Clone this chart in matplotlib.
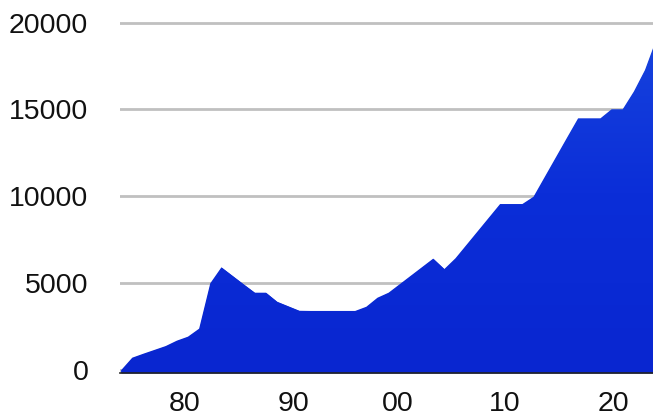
"""Area chart: yearly totals 1974-2022"""
import matplotlib.pyplot as plt
import numpy as np
from matplotlib.colors import LinearSegmentedColormap

plt.rcParams['font.family'] = ['Liberation Sans', 'DejaVu Sans']

years = list(range(1974, 2023))
values = [
    0, 720, 950, 1170, 1390, 1700, 1930, 2390, 5000, 5920,
    5430, 4940, 4460, 4460, 3940, 3680, 3420, 3410, 3410, 3410,
    3410, 3410, 3650, 4170, 4460, 4950, 5440, 5930, 6420, 5820,
    6440, 7220, 8000, 8780, 9560, 9560, 9560, 9980, 11110, 12240,
    13370, 14490, 14490, 14490, 15010, 15010, 16030, 17270, 19010,
]
xtick_labels = ['80', '90', '00', '10', '20']
ytick_values = [0, 5000, 10000, 15000, 20000]

# where the decade labels sit in the reference (data units)
XTICK_POS = [1979.74, 1989.43, 1998.80, 2008.44, 2018.13]
X_LIM = (1973.9, 2021.72)
Y_LIM = (-160, 20500)

fig = plt.figure(figsize=(6.53, 4.16), dpi=100)
ax = fig.add_axes([120 / 653, 43 / 416, 1 - 120 / 653, 359.1 / 416])

x = np.array(years)
y = np.array(values)

poly = ax.fill_between(x, y, Y_LIM[0], color='#0b2dd6', lw=0, zorder=2)

# soft vertical gradient clipped to the area
cmap = LinearSegmentedColormap.from_list('fill', ['#0926d0', '#0b2ed8', '#1846de'])
grad = np.linspace(0, 1, 256).reshape(-1, 1)
img = ax.imshow(grad, extent=[X_LIM[0], X_LIM[1], Y_LIM[0], Y_LIM[1]], origin='lower',
                aspect='auto', cmap=cmap, zorder=3)
img.set_clip_path(poly.get_paths()[0], transform=ax.transData)

ax.set_xlim(*X_LIM)
ax.set_ylim(*Y_LIM)

ax.set_yticks(ytick_values)
ax.set_yticklabels([str(v) for v in ytick_values])
ax.set_xticks(XTICK_POS)
ax.set_xticklabels(xtick_labels)

ax.yaxis.grid(True, color='#c0c0c0', lw=2.0)
ax.set_axisbelow(True)
ax.tick_params(axis='y', length=0, pad=22.8, labelsize=20.5, colors='#111111')
ax.tick_params(axis='x', length=0, pad=13, labelsize=20.5, colors='#111111')

for side in ['top', 'right', 'left']:
    ax.spines[side].set_visible(False)
ax.spines['bottom'].set_color('#222222')
ax.spines['bottom'].set_linewidth(1.2)
ax.spines['bottom'].set_zorder(4)

fig.savefig('out.png', dpi=100, facecolor='white')
plt.close()
